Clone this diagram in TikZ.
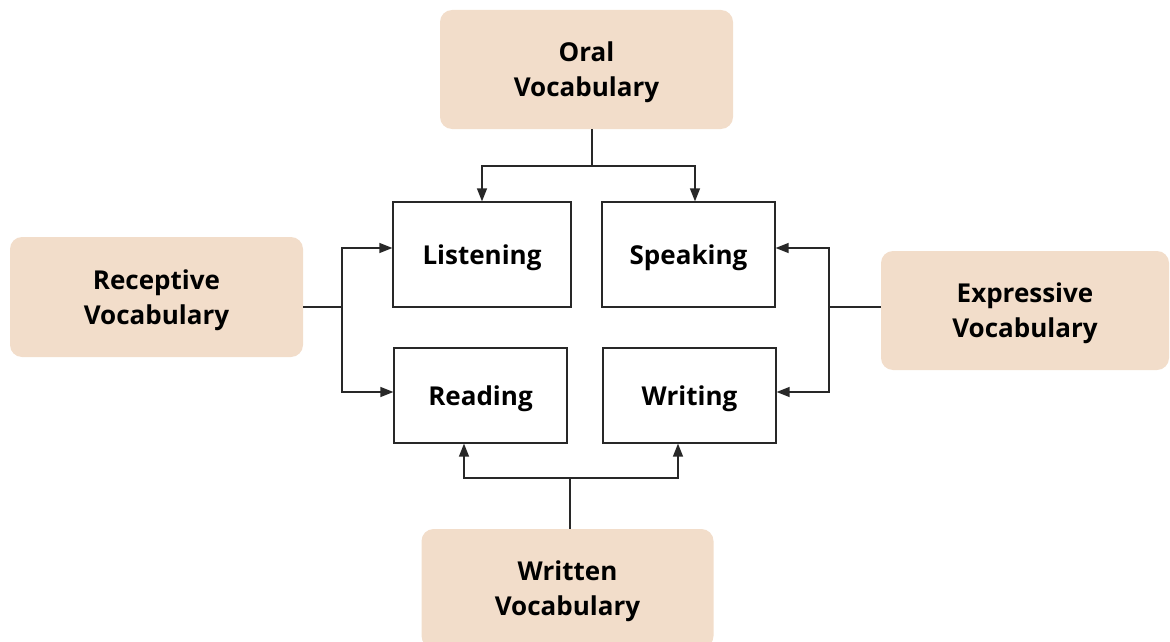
\documentclass[tikz,border=0pt]{standalone}
\usepackage{fontspec}
\setmainfont{Open Sans}
\usetikzlibrary{arrows.meta}
\definecolor{vocabfill}{RGB}{242,221,202}
\definecolor{linegray}{RGB}{40,40,40}
\begin{document}
\begin{tikzpicture}[
    x=1pt,y=-1pt,
    >={Triangle[length=13pt,width=10pt]},
    vocab/.style={
        fill=vocabfill,
        rounded corners=12pt,
        align=center,
        text depth=-2pt,
        font=\fontsize{26}{35}\selectfont\bfseries
    },
    skill/.style={
        draw=linegray,
        line width=1.2pt,
        text depth=-2pt,
        font=\fontsize{26}{30}\selectfont\bfseries
    },
    link/.style={
        draw=linegray,
        line width=1.3pt
    }
    ]
    \useasboundingbox (0,0) rectangle (1170,642);

    \node[vocab,minimum width=293,minimum height=119] (oral) at (586.5,69.5) {Oral\\Vocabulary};
    \node[vocab,minimum width=293,minimum height=120] (recep) at (156.5,297) {Receptive\\Vocabulary};
    \node[vocab,minimum width=288,minimum height=119] (expr) at (1025,310.5) {Expressive\\Vocabulary};
    \node[vocab,minimum width=292,minimum height=119] (written) at (567.5,588.5) {Written\\Vocabulary};

    \node[skill,minimum width=178,minimum height=105] (listen) at (482,254.5) {Listening};
    \node[skill,minimum width=173,minimum height=105] (speak) at (688.5,254.5) {Speaking};
    \node[skill,minimum width=173,minimum height=95] (read) at (480.5,395.5) {Reading};
    \node[skill,minimum width=173,minimum height=95] (write) at (689.5,395.5) {Writing};

    \coordinate (oralj) at (592,166);
    \coordinate (recepj) at (342,307);
    \coordinate (exprj) at (829,307);
    \coordinate (writtenj) at (570,478);

    \draw[link] (oral.south -| oralj) -- (oralj);
    \draw[link,->] (oralj) -| (listen.north);
    \draw[link,->] (oralj) -| ([xshift=6.5pt]speak.north);

    \draw[link] (recepj -| recep.east) -- (recepj);
    \draw[link,->] (recepj) |- ([yshift=6.5pt]listen.west);
    \draw[link,->] (recepj) |- ([yshift=3.5pt]read.west);

    \draw[link] (exprj -| expr.west) -- (exprj);
    \draw[link,->] (exprj) |- ([yshift=6.5pt]speak.east);
    \draw[link,->] (exprj) |- ([yshift=3.5pt]write.east);

    \draw[link] (written.north -| writtenj) -- (writtenj);
    \draw[link,->] (writtenj) -| ([xshift=-16.5pt]read.south);
    \draw[link,->] (writtenj) -| ([xshift=-11.5pt]write.south);
\end{tikzpicture}
\end{document}
